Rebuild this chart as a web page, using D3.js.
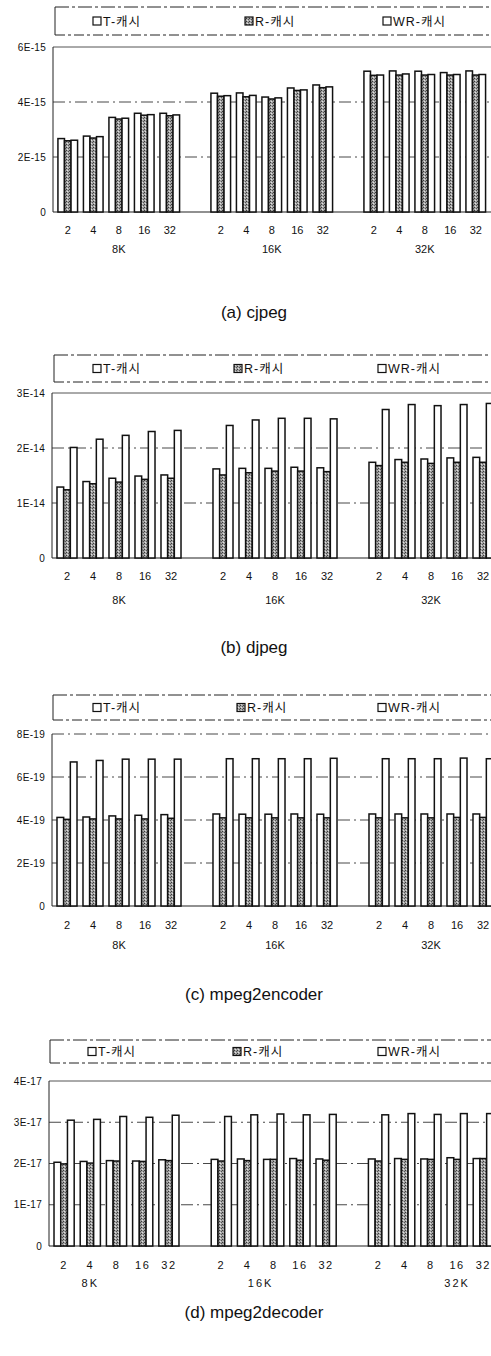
<!DOCTYPE html>
<html>
<head>
<meta charset="utf-8">
<script src="https://cdnjs.cloudflare.com/ajax/libs/d3/7.8.5/d3.min.js"></script>
<style>
  body { margin: 0; background: #fff; }
  svg { display: block; }
  .ylab { font: 10px "Liberation Sans", Arial, sans-serif; fill: #111; letter-spacing: 0.3px; }
  .xlab { font: 11px "Liberation Sans", Arial, sans-serif; fill: #111; }
  .leg  { font: 12.5px "Liberation Sans", "Noto Sans CJK KR", sans-serif; fill: #111; letter-spacing: 1px; }
  .cap  { font: 17px "Liberation Sans", Arial, sans-serif; fill: #111; }
</style>
</head>
<body>
<svg width="491" height="1356"></svg>
<script>
var sizes  = ["2", "4", "8", "16", "32"];
var groups = ["8K", "16K", "32K"];
var seriesNames = ["T-캐시", "R-캐시", "WR-캐시"];

// values in order 8K(2..32), 16K(2..32), 32K(2..32)
var cjpegT  = [2.67e-15, 2.76e-15, 3.44e-15, 3.59e-15, 3.59e-15, 4.32e-15, 4.33e-15, 4.18e-15, 4.51e-15, 4.62e-15, 5.12e-15, 5.13e-15, 5.12e-15, 5.07e-15, 5.13e-15];
var cjpegR  = [2.59e-15, 2.69e-15, 3.38e-15, 3.52e-15, 3.50e-15, 4.21e-15, 4.19e-15, 4.11e-15, 4.42e-15, 4.52e-15, 4.97e-15, 4.98e-15, 4.98e-15, 4.98e-15, 4.98e-15];
var cjpegWR = [2.61e-15, 2.74e-15, 3.41e-15, 3.54e-15, 3.53e-15, 4.23e-15, 4.24e-15, 4.15e-15, 4.44e-15, 4.55e-15, 4.98e-15, 5.02e-15, 5.00e-15, 5.00e-15, 5.00e-15];
var cjpegTicks  = [0, 2e-15, 4e-15, 6e-15];
var cjpegLabels = ["0", "2E-15", "4E-15", "6E-15"];

var djpegT  = [1.29e-14, 1.39e-14, 1.45e-14, 1.49e-14, 1.51e-14, 1.62e-14, 1.63e-14, 1.63e-14, 1.65e-14, 1.64e-14, 1.74e-14, 1.79e-14, 1.80e-14, 1.82e-14, 1.83e-14];
var djpegR  = [1.24e-14, 1.35e-14, 1.38e-14, 1.43e-14, 1.45e-14, 1.51e-14, 1.55e-14, 1.58e-14, 1.58e-14, 1.57e-14, 1.68e-14, 1.74e-14, 1.72e-14, 1.74e-14, 1.74e-14];
var djpegWR = [2.01e-14, 2.16e-14, 2.23e-14, 2.30e-14, 2.32e-14, 2.41e-14, 2.51e-14, 2.54e-14, 2.54e-14, 2.53e-14, 2.70e-14, 2.79e-14, 2.77e-14, 2.79e-14, 2.81e-14];
var djpegTicks  = [0, 1e-14, 2e-14, 3e-14];
var djpegLabels = ["0", "1E-14", "2E-14", "3E-14"];

var encT  = [4.12e-19, 4.14e-19, 4.19e-19, 4.22e-19, 4.25e-19, 4.28e-19, 4.27e-19, 4.27e-19, 4.28e-19, 4.27e-19, 4.28e-19, 4.28e-19, 4.28e-19, 4.28e-19, 4.28e-19];
var encR  = [4.03e-19, 4.05e-19, 4.05e-19, 4.05e-19, 4.08e-19, 4.10e-19, 4.10e-19, 4.10e-19, 4.10e-19, 4.10e-19, 4.10e-19, 4.10e-19, 4.10e-19, 4.12e-19, 4.12e-19];
var encWR = [6.70e-19, 6.77e-19, 6.83e-19, 6.83e-19, 6.83e-19, 6.85e-19, 6.85e-19, 6.85e-19, 6.85e-19, 6.87e-19, 6.85e-19, 6.85e-19, 6.85e-19, 6.88e-19, 6.85e-19];
var encTicks  = [0, 2e-19, 4e-19, 6e-19, 8e-19];
var encLabels = ["0", "2E-19", "4E-19", "6E-19", "8E-19"];

var decT  = [2.03e-17, 2.05e-17, 2.07e-17, 2.06e-17, 2.09e-17, 2.10e-17, 2.11e-17, 2.10e-17, 2.12e-17, 2.11e-17, 2.11e-17, 2.12e-17, 2.11e-17, 2.14e-17, 2.12e-17];
var decR  = [1.99e-17, 2.01e-17, 2.06e-17, 2.05e-17, 2.07e-17, 2.06e-17, 2.07e-17, 2.10e-17, 2.08e-17, 2.08e-17, 2.06e-17, 2.10e-17, 2.10e-17, 2.10e-17, 2.12e-17];
var decWR = [3.05e-17, 3.07e-17, 3.14e-17, 3.12e-17, 3.17e-17, 3.14e-17, 3.18e-17, 3.20e-17, 3.18e-17, 3.19e-17, 3.18e-17, 3.21e-17, 3.19e-17, 3.21e-17, 3.21e-17];
var decTicks  = [0, 1e-17, 2e-17, 3e-17, 4e-17];
var decLabels = ["0", "1E-17", "2E-17", "3E-17", "4E-17"];

var svg = d3.select("svg");

// gray dither for R bars
var pat = svg.append("defs").append("pattern")
  .attr("id", "dither").attr("patternUnits", "userSpaceOnUse")
  .attr("width", 3).attr("height", 3);
pat.append("rect").attr("width", 3).attr("height", 3).attr("fill", "#a4a4a4");
pat.append("rect").attr("x", 0).attr("y", 0).attr("width", 1).attr("height", 1).attr("fill", "#3a3a3a");
pat.append("rect").attr("x", 2).attr("y", 1).attr("width", 1).attr("height", 1).attr("fill", "#555");
pat.append("rect").attr("x", 1).attr("y", 2).attr("width", 1).attr("height", 1).attr("fill", "#e0e0e0");

// slot keys: 5 sizes per group, one empty slot between groups
var slots = [];
groups.forEach(function(g, gi) {
  sizes.forEach(function(s) { slots.push(g + "|" + s); });
  if (gi < groups.length - 1) slots.push("gap" + gi);
});

var panels = [
  {T: cjpegT, R: cjpegR, WR: cjpegWR, ticks: cjpegTicks, labels: cjpegLabels,
   legTop: 7, legBot: 35, legLeft: 55, legX: [93, 245, 383],
   top: 47, bottom: 212, x0: 55, pitch: 25.5, topSolid: true,
   tickDy: 18, groupDy: 37, spaced: false, capY: 318, caption: "(a)  cjpeg"},
  {T: djpegT, R: djpegR, WR: djpegWR, ticks: djpegTicks, labels: djpegLabels,
   legTop: 355, legBot: 382, legLeft: 54, legX: [93, 234, 378],
   top: 393, bottom: 558, x0: 54, pitch: 26, topSolid: true,
   tickDy: 18, groupDy: 42, spaced: false, capY: 653, caption: "(b)  djpeg"},
  {T: encT, R: encR, WR: encWR, ticks: encTicks, labels: encLabels,
   legTop: 695, legBot: 720, legLeft: 53, legX: [93, 237, 378],
   top: 734, bottom: 906, x0: 54, pitch: 26, topSolid: false,
   tickDy: 19, groupDy: 39, spaced: false, capY: 1000, caption: "(c)  mpeg2encoder"},
  {T: decT, R: decR, WR: decWR, ticks: decTicks, labels: decLabels,
   legTop: 1040, legBot: 1063, legLeft: 50, legX: [88, 233, 378],
   top: 1081, bottom: 1246, x0: 51, pitch: 26.2, topSolid: true,
   tickDy: 19, groupDy: 37, spaced: true, capY: 1318, caption: "(d)  mpeg2decoder",
   groupAt: [1, 1.5, 3]}
];

panels.forEach(drawPanel);

function drawPanel(p) {
  var g = svg.append("g");

  var x = d3.scaleBand()
    .domain(slots)
    .range([p.x0, p.x0 + slots.length * p.pitch])
    .paddingInner(0.23).paddingOuter(0.115);
  var xs = d3.scaleBand().domain(seriesNames).range([0, x.bandwidth()]);
  var y = d3.scaleLinear().domain([0, p.ticks[p.ticks.length - 1]]).range([p.bottom, p.top]);

  // legend frame
  g.append("line").attr("x1", p.legLeft).attr("x2", 491).attr("y1", p.legTop).attr("y2", p.legTop)
    .attr("stroke", "#222").attr("stroke-width", 1).attr("stroke-dasharray", "14,3,3,3");
  g.append("line").attr("x1", p.legLeft).attr("x2", 491).attr("y1", p.legBot).attr("y2", p.legBot)
    .attr("stroke", "#222").attr("stroke-width", 1).attr("stroke-dasharray", "10,3,3,3");
  g.append("line").attr("x1", p.legLeft).attr("x2", p.legLeft).attr("y1", p.legTop).attr("y2", p.legBot)
    .attr("stroke", "#222").attr("stroke-width", 1);
  var legMid = (p.legTop + p.legBot) / 2;
  seriesNames.forEach(function(s, i) {
    g.append("rect").attr("x", p.legX[i]).attr("y", legMid - 4).attr("width", 8).attr("height", 8)
      .attr("fill", i === 1 ? "url(#dither)" : "#fff").attr("stroke", "#111").attr("stroke-width", 1.2);
    g.append("text").attr("class", "leg").attr("x", p.legX[i] + 10).attr("y", legMid + 4.5).text(s);
  });

  // gridlines
  var gridTicks = p.topSolid ? p.ticks.slice(1, -1) : p.ticks.slice(1);
  g.selectAll(".grid").data(gridTicks).enter().append("line")
    .attr("x1", x.range()[0] - 2).attr("x2", 491)
    .attr("y1", d => y(d)).attr("y2", d => y(d))
    .attr("stroke", "#333").attr("stroke-width", 0.9).attr("stroke-dasharray", "12,4,2,4");
  if (p.topSolid) {
    g.append("line").attr("x1", p.x0 - 2).attr("x2", 491)
      .attr("y1", y.range()[1]).attr("y2", y.range()[1])
      .attr("stroke", "#555").attr("stroke-width", 1);
  }

  // axes lines
  g.append("line").attr("x1", p.x0 - 2).attr("x2", p.x0 - 2).attr("y1", y.range()[1]).attr("y2", p.bottom)
    .attr("stroke", "#222").attr("stroke-width", 1);
  g.append("line").attr("x1", p.x0 - 2).attr("x2", 491).attr("y1", p.bottom).attr("y2", p.bottom)
    .attr("stroke", "#222").attr("stroke-width", 1.2);

  // y tick labels
  g.selectAll(".ylab").data(p.ticks).enter().append("text")
    .attr("class", "ylab").attr("text-anchor", "end")
    .attr("x", p.x0 - 9).attr("y", d => y(d) + 3.5)
    .text((d, i) => p.labels[i]);

  // bars
  var rows = [];
  groups.forEach(function(gr, gi) {
    sizes.forEach(function(s, si) {
      var k = gi * sizes.length + si;
      rows.push({slot: gr + "|" + s, s: "T-캐시", v: p.T[k]});
      rows.push({slot: gr + "|" + s, s: "R-캐시", v: p.R[k]});
      rows.push({slot: gr + "|" + s, s: "WR-캐시", v: p.WR[k]});
    });
  });
  g.selectAll(".bar").data(rows).enter().append("rect")
    .attr("x", d => x(d.slot) + xs(d.s))
    .attr("y", d => y(d.v))
    .attr("width", xs.bandwidth())
    .attr("height", d => p.bottom - y(d.v))
    .attr("fill", d => d.s === "R-캐시" ? "url(#dither)" : "#fff")
    .attr("stroke", "#111").attr("stroke-width", 1.5);

  // x labels
  groups.forEach(function(gr, gi) {
    sizes.forEach(function(s) {
      g.append("text").attr("class", "xlab").attr("text-anchor", "middle")
        .attr("x", x(gr + "|" + s) + x.bandwidth() / 2)
        .attr("y", p.bottom + p.tickDy + 4)
        .attr("letter-spacing", p.spaced ? "1.5px" : null)
        .text(s);
    });
    var at = p.groupAt ? p.groupAt[gi] : 2;
    var lo = x(gr + "|" + sizes[Math.floor(at)]);
    var cx = lo + (at - Math.floor(at)) * x.step() + x.bandwidth() / 2;
    g.append("text").attr("class", "xlab").attr("text-anchor", "middle")
      .attr("x", cx).attr("y", p.bottom + p.groupDy + 4)
      .attr("letter-spacing", p.spaced ? "2px" : null)
      .text(gr);
  });

  g.append("text").attr("class", "cap").attr("text-anchor", "middle")
    .attr("x", 254).attr("y", p.capY).text(p.caption);
}
</script>
</body>
</html>
